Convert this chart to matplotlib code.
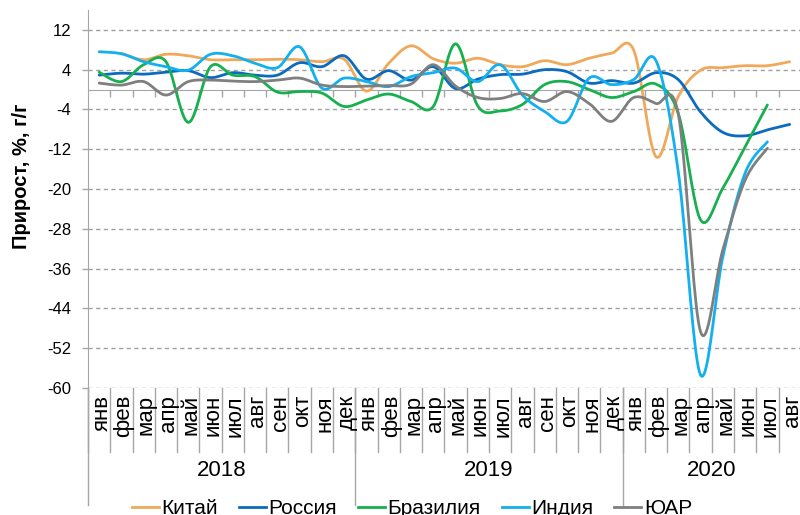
import numpy as np
import matplotlib
matplotlib.use("Agg")
import matplotlib.pyplot as plt
import matplotlib.transforms as mtransforms
from matplotlib.lines import Line2D

plt.rcParams['font.family'] = ['Liberation Sans', 'DejaVu Sans']

nan = np.nan

# данные: прирост промпроизводства, % г/г, янв 2018 - авг 2020
months = ["янв", "фев", "мар", "апр", "май", "июн", "июл", "авг",
          "сен", "окт", "ноя", "дек"]
years = ["2018", "2019", "2020"]
n_months = [12, 12, 8]

china = [nan, 7.3, 6.0, 7.1, 6.8, 6.0, 6.0, 6.0, 6.1, 6.0, 5.6, 6.1,
         -0.3, 5.3, 8.8, 6.2, 5.3, 6.3, 5.0, 4.6, 5.8, 5.0, 6.3, 7.3,
         7.9, -13.5, -1.4, 3.9, 4.4, 4.8, 4.8, 5.6]
russia = [2.9, 3.3, 3.1, 3.5, 3.8, 2.4, 3.4, 2.9, 2.9, 5.4, 4.6, 6.8,
          2.1, 3.8, 1.9, 4.6, 0.2, 2.1, 3.0, 3.1, 4.0, 3.6, 1.3, 1.8,
          1.3, 3.4, 2.0, -4.5, -8.6, -9.3, -8.1, -7.0]
brazil = [3.5, 1.6, 5.0, 5.6, -6.6, 4.6, 2.9, 2.6, -0.5, -0.4, -0.7, -3.4,
          -2.1, -0.9, -2.4, -3.4, 9.2, -3.3, -4.3, -3.0, 1.0, 1.6, 0.0, -1.6,
          -0.4, 1.1, -4.8, -26.2, -19.8, -11.5, -3.1, nan]
india = [7.6, 7.2, 5.6, 4.6, 3.9, 7.1, 6.8, 5.3, 4.4, 8.6, 0.3, 2.3,
         1.6, 0.6, 2.6, 3.4, 4.3, 1.6, 5.0, -1.1, -4.4, -6.4, 2.3, 1.0,
         2.0, 5.8, -16.5, -57.4, -33.6, -16.8, -10.5, nan]
sa = [1.3, 0.9, 1.6, -1.1, 1.6, 1.9, 1.7, 1.6, 1.9, 2.3, 0.9, 0.6,
      0.7, 0.8, 1.1, 5.0, 0.7, -1.6, -1.8, -0.8, -2.4, -0.4, -2.8, -6.4,
      -1.6, -2.8, -4.9, -48.7, -32.2, -18.2, -11.8, nan]

series = [("Китай", china, "#F0A95A"),
          ("Россия", russia, "#0B6BBF"),
          ("Бразилия", brazil, "#16B04F"),
          ("Индия", india, "#12B0EE"),
          ("ЮАР", sa, "#7F7F7F")]


def smooth(x, y, steps=20):
    # сглаживание как в Excel: кубические Безье по схеме Катмулла-Рома
    xs, ys = [], []
    n = len(x)
    for i in range(n - 1):
        p0 = (x[max(i - 1, 0)], y[max(i - 1, 0)])
        p1 = (x[i], y[i])
        p2 = (x[i + 1], y[i + 1])
        p3 = (x[min(i + 2, n - 1)], y[min(i + 2, n - 1)])
        c1 = (p1[0] + (p2[0] - p0[0]) / 6, p1[1] + (p2[1] - p0[1]) / 6)
        c2 = (p2[0] - (p3[0] - p1[0]) / 6, p2[1] - (p3[1] - p1[1]) / 6)
        t = np.linspace(0, 1, steps, endpoint=(i == n - 2))
        for a, b in zip((xs, ys), range(2)):
            a.extend((1 - t) ** 3 * p1[b] + 3 * (1 - t) ** 2 * t * c1[b]
                     + 3 * (1 - t) * t ** 2 * c2[b] + t ** 3 * p2[b])
    return np.array(xs), np.array(ys)


fig = plt.figure(figsize=(8, 5.15), dpi=100)
ax = fig.add_axes([0.11, 0.2466, 0.891, 0.734])

total = sum(n_months)
x_all = np.arange(total)
yticks = list(range(-60, 13, 8))
for v in yticks:
    if v != 0:
        ax.axhline(v, color="#A0A0A0", lw=1.0, ls=(0, (3, 2.5)), zorder=1)

for name, vals, col in series:
    vals = np.array(vals, dtype=float)
    ok = ~np.isnan(vals)
    sx, sy = smooth(x_all[ok].astype(float), vals[ok])
    ax.plot(sx, sy, color=col, lw=2.0, solid_capstyle="round", zorder=3)

ax.set_xlim(-0.5, total - 0.5)
ax.set_ylim(-60, 16)
ax.set_yticks(yticks)
ax.set_yticklabels([str(v) for v in yticks], fontsize=12)

for s in ["top", "right"]:
    ax.spines[s].set_visible(False)
ax.spines["left"].set_color("#A6A6A6")
ax.spines["bottom"].set_color("#A6A6A6")
ax.spines["bottom"].set_position(("data", 0))
ax.spines["bottom"].set_zorder(2)
ax.set_xticks(np.arange(0.5, total - 0.5, 1))
ax.set_xticklabels([])
ax.tick_params(axis="x", direction="out", length=5, color="#A6A6A6", width=1)
ax.tick_params(axis="y", direction="out", length=4, color="#A6A6A6", width=1, pad=8)

# подписи категорий в два уровня
trans = mtransforms.blended_transform_factory(ax.transData, ax.transAxes)
h_px = 378.0
k = 0
for yi, yr in enumerate(years):
    start = k
    for m in range(n_months[yi]):
        ax.text(k + 0.12, -7 / h_px, months[m], rotation=90, ha="center", va="top",
                fontsize=16, transform=trans, clip_on=False)
        ax.add_line(Line2D([k - 0.5, k - 0.5], [0, -64 / h_px], transform=trans,
                           color="#A6A6A6", lw=1, clip_on=False))
        k += 1
    ax.add_line(Line2D([start - 0.5, start - 0.5], [0, -117 / h_px], transform=trans,
                       color="#A6A6A6", lw=1, clip_on=False))
    ax.text((start + k - 1) / 2, -82 / h_px, yr, ha="center", va="center",
            fontsize=16, transform=trans)

fig.text(22 / 800, 1 - 176 / 515, "Прирост, %, г/г", rotation=90, ha="center",
         va="center", fontsize=14.5, fontweight="bold")

handles = [Line2D([], [], color=c, lw=2.0) for _, _, c in series]
fig.legend(handles, [s[0] for s in series], loc="center", ncol=5,
           bbox_to_anchor=(412 / 800, 1 - 509 / 515), frameon=False, fontsize=15,
           handlelength=1.3, handletextpad=0.12, columnspacing=1.0)

fig.savefig("out.png", dpi=100)
